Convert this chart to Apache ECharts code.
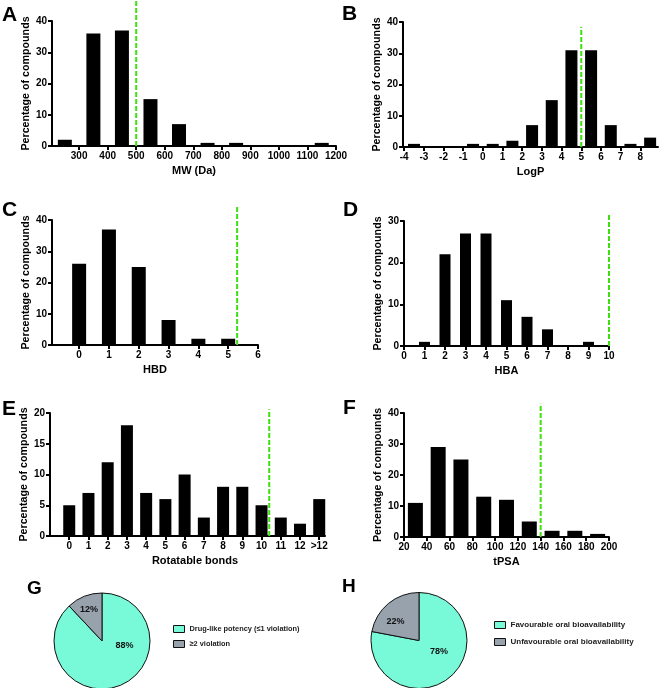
<!DOCTYPE html>
<html>
<head>
<meta charset="utf-8">
<script src="https://cdn.jsdelivr.net/npm/echarts@6/dist/echarts.min.js"></script>
<style>
html,body{margin:0;padding:0;background:#fff;}
#chart{width:661px;height:688px;}
</style>
</head>
<body>
<div id="chart"></div>
<script>
// ---- data ----
const mwBins = [250, 350, 450, 550, 650, 750, 850, 950, 1050, 1150];
const mwValues = [2, 36, 37, 15, 7, 1, 1, 0, 0, 1];
const mwTicks = [300, 400, 500, 600, 700, 800, 900, 1000, 1100, 1200];
const mwCutoff = 500;

const logpBins = [-3.5, -2.5, -1.5, -0.5, 0.5, 1.5, 2.5, 3.5, 4.5, 5.5, 6.5, 7.5, 8.5];
const logpValues = [1, 0, 0, 1, 1, 2, 7, 15, 31, 31, 7, 1, 3];
const logpTicks = [-4, -3, -2, -1, 0, 1, 2, 3, 4, 5, 6, 7, 8];
const logpCutoff = 5;

const hbdBins = [0, 1, 2, 3, 4, 5];
const hbdValues = [26, 37, 25, 8, 2, 2];
const hbdTicks = [0, 1, 2, 3, 4, 5, 6];
const hbdCutoff = 5.3;

const hbaBins = [1, 2, 3, 4, 5, 6, 7, 8, 9];
const hbaValues = [1, 22, 27, 27, 11, 7, 4, 0, 1];
const hbaTicks = [0, 1, 2, 3, 4, 5, 6, 7, 8, 9, 10];
const hbaCutoff = 10;

const rotCategories = ['0', '1', '2', '3', '4', '5', '6', '7', '8', '9', '10', '11', '12', '>12'];
const rotValues = [5, 7, 12, 18, 7, 6, 10, 3, 8, 8, 5, 3, 2, 6];
const rotCutoff = 10.4;

const tpsaBins = [30, 50, 70, 90, 110, 130, 150, 170, 190];
const tpsaValues = [11, 29, 25, 13, 12, 5, 2, 2, 1];
const tpsaTicks = [20, 40, 60, 80, 100, 120, 140, 160, 180, 200];
const tpsaCutoff = 140;

const gNames = ['Drug-like potency (\u22641 violation)', '\u22652 violation'];
const gValues = [88, 12];
const hNames = ['Favourable oral bioavailability', 'Unfavourable oral bioavailability'];
const hValues = [78, 22];

const panelLetters = ['A', 'B', 'C', 'D', 'E', 'F', 'G', 'H'];
const xTitles = ['MW (Da)', 'LogP', 'HBD', 'HBA', 'Rotatable bonds', 'tPSA'];
const yTitle = 'Percentage of compounds';

// ---- styling ----
const FONT = "'Liberation Sans', Arial, sans-serif";
const GREEN = '#3fe010';
const TEAL = '#78f9d8';
const GREY = '#97a2ad';

const panels = [
  {grid: {left: 52, top: 21, width: 284, height: 125}, xmin: 205, xmax: 1200, ticks: mwTicks, bins: mwBins, vals: mwValues, ymax: 40, yint: 10, bw: 14, cut: mwCutoff, cutTop: 47},
  {grid: {left: 403, top: 22, width: 255, height: 125}, xmin: -4.06, xmax: 8.9, ticks: logpTicks, bins: logpBins, vals: logpValues, ymax: 40, yint: 10, bw: 12, cut: logpCutoff, cutTop: 38.4},
  {grid: {left: 52, top: 220, width: 206, height: 125}, xmin: -0.91, xmax: 6, ticks: hbdTicks, bins: hbdBins, vals: hbdValues, ymax: 40, yint: 10, bw: 14, cut: hbdCutoff, cutTop: 44.8},
  {grid: {left: 404, top: 221, width: 205, height: 125}, xmin: 0, xmax: 10, ticks: hbaTicks, bins: hbaBins, vals: hbaValues, ymax: 30, yint: 10, bw: 11, cut: hbaCutoff, cutTop: 31.9},
  {grid: {left: 50, top: 413, width: 275, height: 123}, xmin: -1, xmax: 13.3, ticks: rotCategories.map((c, i) => i), bins: rotCategories.map((c, i) => i), vals: rotValues, ymax: 20, yint: 5, bw: 12, cut: rotCutoff, cutTop: 20.6, fmt: v => rotCategories[Math.round(v)], namePad: [0, 0, 0, 15]},
  {grid: {left: 404, top: 413, width: 205, height: 124}, xmin: 20, xmax: 200, ticks: tpsaTicks, bins: tpsaBins, vals: tpsaValues, ymax: 40, yint: 10, bw: 15, cut: tpsaCutoff, cutTop: 43}
];

const grids = [], xAxes = [], yAxes = [], series = [];
const axisLine = {show: true, onZero: false, lineStyle: {color: '#000', width: 2}};
const axisTick = {show: true, length: 4, lineStyle: {color: '#000', width: 2}};
const lblStyle = {color: '#000', fontFamily: FONT, fontWeight: 'bold', fontSize: 10};

panels.forEach((p, i) => {
  grids.push(Object.assign({containLabel: false}, p.grid));
  xAxes.push({
    type: 'value', gridIndex: i, min: p.xmin, max: p.xmax,
    name: xTitles[i], nameLocation: 'middle', nameGap: 19,
    nameTextStyle: {color: '#000', fontFamily: FONT, fontWeight: 'bold', fontSize: 11, padding: p.namePad || 0},
    axisLine: axisLine,
    axisTick: Object.assign({customValues: p.ticks}, axisTick),
    axisLabel: Object.assign({customValues: p.ticks, margin: 5, formatter: p.fmt || (v => String(v))}, lblStyle),
    splitLine: {show: false}
  });
  yAxes.push({
    type: 'value', gridIndex: i, min: 0, max: p.ymax, interval: p.yint,
    name: yTitle, nameLocation: 'middle', nameGap: 19,
    nameTextStyle: {color: '#000', fontFamily: FONT, fontWeight: 'bold', fontSize: 10.7},
    axisLine: axisLine, axisTick: axisTick,
    axisLabel: Object.assign({margin: 5}, lblStyle),
    splitLine: {show: false}
  });
  series.push({
    type: 'bar', xAxisIndex: i, yAxisIndex: i, barWidth: p.bw,
    itemStyle: {color: '#000'},
    data: p.bins.map((b, j) => [b, p.vals[j]])
  });
  series.push({
    type: 'line', xAxisIndex: i, yAxisIndex: i, clip: false, symbol: 'none', z: 5,
    lineStyle: {color: GREEN, width: 2, type: [5, 2]},
    data: [[p.cut, 0], [p.cut, p.cutTop]]
  });
});

function pieSeries(names, values, center, labelShift) {
  return {
    type: 'pie', center: center, radius: 48, startAngle: 90, clockwise: true,
    itemStyle: {borderColor: '#111', borderWidth: 1},
    label: {show: true, position: 'inside', formatter: '{c}%', color: '#111', fontFamily: FONT, fontWeight: 'bold', fontSize: 9},
    labelLine: {show: false},
    labelLayout: function (params) { return {dx: labelShift[params.dataIndex][0], dy: labelShift[params.dataIndex][1]}; },
    emphasis: {disabled: true},
    data: names.map((n, j) => ({name: n, value: values[j], itemStyle: {color: j === 0 ? TEAL : GREY}}))
  };
}
series.push(pieSeries(gNames, gValues, [102, 641], [[12.5, -20.6], [-3, -6]]));
series.push(pieSeries(hNames, hValues, [419, 640.5], [[2.7, -9.7], [-6.3, 2.3]]));

const legendTextG = {color: '#222', fontFamily: FONT, fontWeight: 'bold', fontSize: 7.4, lineHeight: 10};
const legendTextH = {color: '#222', fontFamily: FONT, fontWeight: 'bold', fontSize: 8, lineHeight: 10};
const legends = [
  {data: gNames, left: 168, top: 619, orient: 'vertical', itemWidth: 11, itemHeight: 7, itemGap: 5, icon: 'rect', textStyle: legendTextG, itemStyle: {borderColor: '#111', borderWidth: 1}, selectedMode: false},
  {data: hNames, left: 489, top: 615, orient: 'vertical', itemWidth: 11, itemHeight: 7, itemGap: 7, icon: 'rect', textStyle: legendTextH, itemStyle: {borderColor: '#111', borderWidth: 1}, selectedMode: false}
];

const letterPos = [[2, 5, 21], [342, 4, 21], [2, 200, 21], [343, 200, 21], [2, 399, 21], [343, 398, 21], [27, 579, 19], [342, 577, 19]];
const graphic = panelLetters.map((t, i) => ({
  type: 'text', left: letterPos[i][0], top: letterPos[i][1],
  style: {text: t, fill: '#000', font: 'bold ' + letterPos[i][2] + 'px ' + FONT}
}));

const chart = echarts.init(document.getElementById('chart'), null, {renderer: 'canvas'});
chart.setOption({
  animation: false,
  backgroundColor: '#fff',
  grid: grids, xAxis: xAxes, yAxis: yAxes, series: series,
  legend: legends, graphic: graphic
});
</script>
</body>
</html>
